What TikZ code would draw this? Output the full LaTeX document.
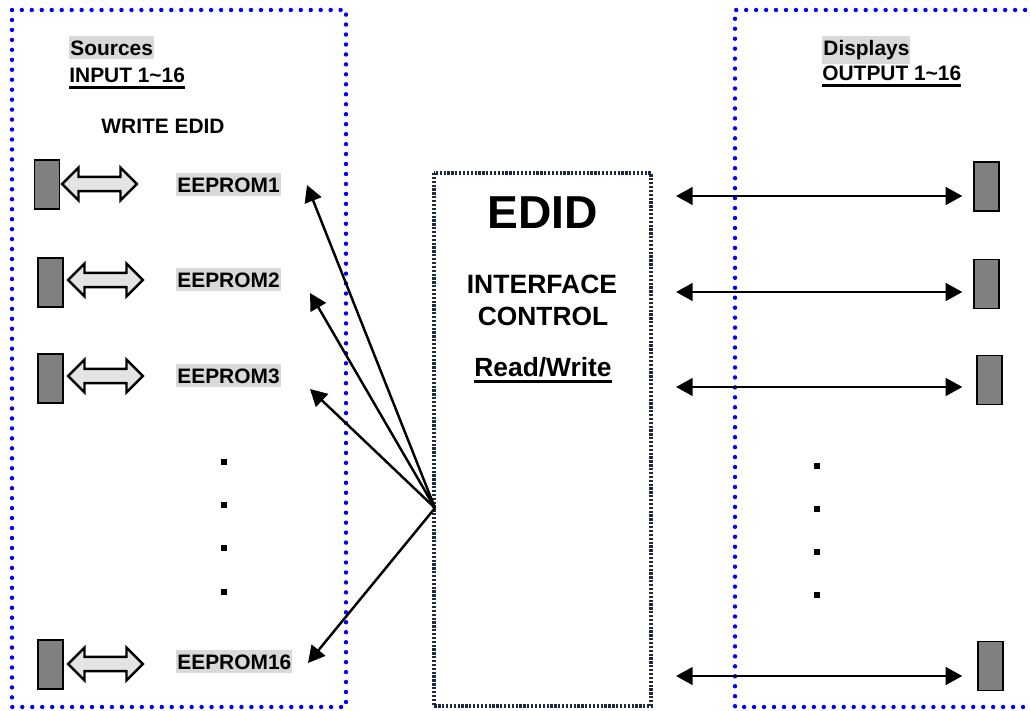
\documentclass[tikz,border=0pt]{standalone}
\usepackage{fontspec}
\setmainfont{Liberation Sans}
\usetikzlibrary{arrows.meta,shapes.arrows}

\newcommand{\ulbold}[1]{\leavevmode\setbox0\hbox{#1}\rlap{\rule[-3.7pt]{\wd0}{1.5pt}}\box0}

\definecolor{hlgray}{HTML}{D9D9D9}
\definecolor{portgray}{HTML}{808080}
\definecolor{hollowfill}{HTML}{E4E4E4}
\definecolor{ctrlline}{HTML}{1E2A40}

\tikzset{
    bluedots/.style={blue, line width=2.5pt, line cap=round, dash pattern=on 0pt off 5.67pt},
    ctrldots/.style={ctrlline, line width=1.8pt, dash pattern=on 1.3pt off 0.9pt},
    port/.style={draw=black, fill=portgray, line width=0.9pt, minimum width=14.2pt, minimum height=27.8pt, inner sep=0pt},
    hollow/.style={double arrow, draw=black, fill=hollowfill, line width=1.4pt, inner xsep=0pt, inner ysep=3.4pt,
        minimum height=42.5pt, double arrow head extend=5.2pt},
    io/.style={{Triangle[length=9.5pt,width=10pt]}-{Triangle[length=9.5pt,width=10pt]}, line width=1.6pt},
    fan/.style={-{Triangle[length=9.5pt,width=10pt]}, line width=1.4pt},
    hl/.style={fill=hlgray, inner xsep=0.6pt, inner ysep=2.4pt, font=\fontsize{11.9}{14}\selectfont\bfseries},
    eep/.style={hl},
    lbl/.style={inner sep=0pt, font=\fontsize{11.9}{14}\selectfont\bfseries},
    dotmark/.style={fill=black, minimum size=3.4pt, inner sep=0pt},
}

\begin{document}
\begin{tikzpicture}[x=0.02cm, y=-0.02cm]
    \useasboundingbox (0,0) rectangle (1030,710);
    \clip (0,0) rectangle (1030,710);

    % panels
    \draw[bluedots] (12,10) rectangle (346,707);
    \draw[bluedots] (1045,10) -- (735,10) -- (735,707) -- (1045,707);
    \draw[ctrldots] (434,173) rectangle (651,706);

    % sources side
    \node[hl, anchor=base west] (src) at (69,55) {Sources};
    \node[lbl, anchor=base west] (inp) at (69,82) {\ulbold{INPUT 1\textasciitilde16}};
    \node[lbl, anchor=base] (wr) at (163,133) {WRITE EDID};

    \node[port] (in1) at (47,184.5) {};
    \node[port] (in2) at (50.5,282.5) {};
    \node[port] (in3) at (50.5,378.5) {};
    \node[port] (in16) at (50.5,664.5) {};

    \node[hollow] (h1) at (99.5,184) {};
    \node[hollow] (h2) at (105.5,280) {};
    \node[hollow] (h3) at (105.5,376) {};
    \node[hollow] (h16) at (105.5,664) {};

    \node[eep, anchor=base west] (e1) at (176,192) {EEPROM1};
    \node[eep, anchor=base west] (e2) at (176,287) {EEPROM2};
    \node[eep, anchor=base west] (e3) at (176,383) {EEPROM3};
    \node[eep, anchor=base west] (e16) at (176,669) {EEPROM16};

    \node[dotmark] (ld1) at (224,462) {};
    \node[dotmark] (ld2) at (224,505) {};
    \node[dotmark] (ld3) at (224,548) {};
    \node[dotmark] (ld4) at (224,592) {};

    % control block
    \node[inner sep=0pt, font=\fontsize{26.3}{30}\selectfont\bfseries, anchor=base] (edid) at (543,228) {EDID};
    \node[inner sep=0pt, font=\fontsize{15.1}{17}\selectfont\bfseries, anchor=base] (ifc) at (542,293) {INTERFACE};
    \node[inner sep=0pt, font=\fontsize{15}{17}\selectfont\bfseries, anchor=base] (ctl) at (543,325) {CONTROL};
    \node[inner sep=0pt, font=\fontsize{15}{17}\selectfont\bfseries, anchor=base] (rw) at (543,376) {\ulbold{Read/Write}};

    \coordinate (hub) at (435,508);
    \coordinate (w1) at (307,185);
    \coordinate (w2) at (310,293);
    \coordinate (w3) at (310,389);
    \coordinate (w16) at (308,663);
    \draw[fan] (hub) -- (w1);
    \draw[fan] (hub) -- (w2);
    \draw[fan] (hub) -- (w3);
    \draw[fan] (hub) -- (w16);

    % displays side
    \node[hl, anchor=base west] (dsp) at (822,55) {Displays};
    \node[lbl, anchor=base west] (outp) at (822,80) {\ulbold{OUTPUT 1\textasciitilde16}};

    \node[port] (out1) at (986.5,186.5) {};
    \node[port] (out2) at (986.5,284) {};
    \node[port] (out3) at (989.5,380) {};
    \node[port] (out16) at (990.5,666) {};

    \coordinate (o1) at (676,196);
    \coordinate (o2) at (676,292);
    \coordinate (o3) at (676,387);
    \coordinate (o16) at (676,676);
    \draw[io, shorten >=6.2pt] (o1) -- (o1 -| out1.west);
    \draw[io, shorten >=6.2pt] (o2) -- (o2 -| out2.west);
    \draw[io, shorten >=7.9pt] (o3) -- (o3 -| out3.west);
    \draw[io, shorten >=8.5pt] (o16) -- (o16 -| out16.west);

    \node[dotmark] (rd1) at (817,466) {};
    \node[dotmark] (rd2) at (817,509) {};
    \node[dotmark] (rd3) at (817,552) {};
    \node[dotmark] (rd4) at (817,595) {};
\end{tikzpicture}
\end{document}
